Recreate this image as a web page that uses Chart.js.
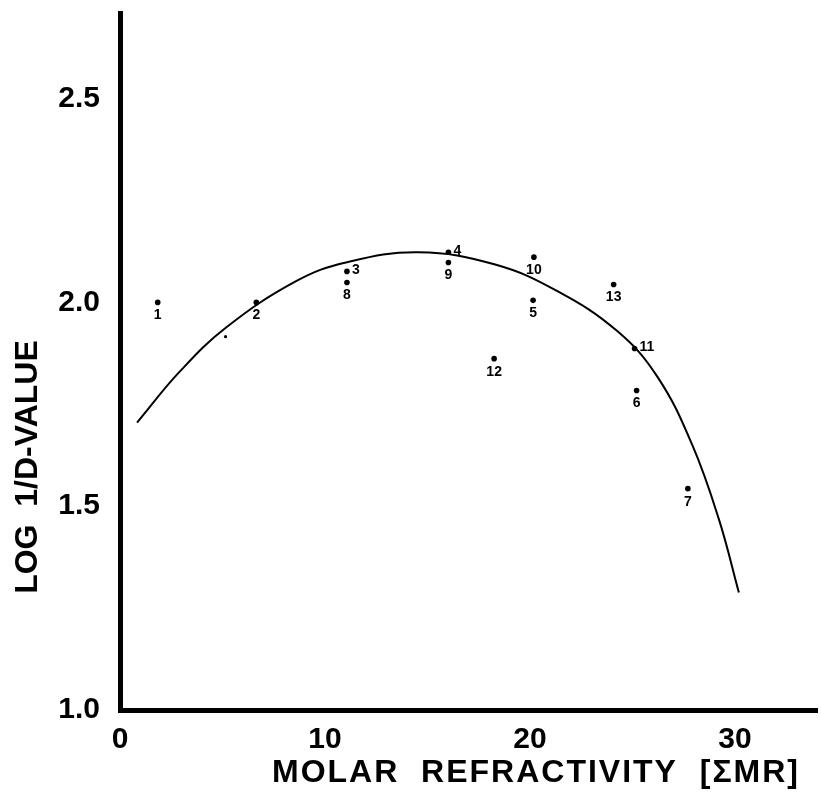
<!DOCTYPE html>
<html>
<head>
<meta charset="utf-8">
<script src="https://cdn.jsdelivr.net/npm/chart.js@4.4.0/dist/chart.umd.min.js"></script>
<style>
  html, body { margin: 0; padding: 0; background: #fff; }
  #wrap { width: 821px; height: 793px; position: relative; }
</style>
</head>
<body>
<div id="wrap"><canvas id="mrChart"></canvas></div>
<script>
// numbered compounds: molar refractivity vs log 1/D
const compoundLabels = ['1', '2', '3', '4', '5', '6', '7', '8', '9', '10', '11', '12', '13'];
const molarRefractivity = [1.84, 6.65, 11.07, 16.02, 20.15, 25.2, 27.7, 11.07, 16.02, 20.19, 25.1, 18.25, 24.08];
const logInvD = [2.0, 2.0, 2.076, 2.123, 2.005, 1.784, 1.543, 2.049, 2.098, 2.111, 1.887, 1.862, 2.044];

// the small unnumbered dot
const extraX = [5.15];
const extraY = [1.916];

// fitted curve
const curveX = [0.83, 2.91, 5.19, 8.59, 11.02, 14.56, 18.3, 21.36, 24.27, 26.21, 27.91, 29.22, 30.19];
const curveY = [1.705, 1.83, 1.939, 2.052, 2.098, 2.123, 2.093, 2.027, 1.929, 1.818, 1.651, 1.467, 1.288];

const xTicks = [0, 10, 20, 30];
const yTicks = [1.0, 1.5, 2.0, 2.5];

const FONT = '"Liberation Sans", Arial, sans-serif';

// labels that sit to the right of their dot instead of below
const sideLabels = ['3', '4', '11'];

const pointLabels = {
  id: 'pointLabels',
  afterDatasetsDraw(chart) {
    const ctx = chart.ctx;
    const meta = chart.getDatasetMeta(1);
    ctx.save();
    ctx.fillStyle = '#000';
    ctx.font = 'bold 14px ' + FONT;
    ctx.textBaseline = 'middle';
    meta.data.forEach((pt, i) => {
      const txt = compoundLabels[i];
      if (sideLabels.includes(txt)) {
        ctx.textAlign = 'left';
        ctx.fillText(txt, pt.x + 5, pt.y - 1);
      } else {
        ctx.textAlign = 'center';
        ctx.fillText(txt, pt.x, pt.y + 13);
      }
    });
    ctx.restore();
  }
};

const axisTitles = {
  id: 'axisTitles',
  afterDraw(chart) {
    const ctx = chart.ctx;
    ctx.save();
    ctx.fillStyle = '#000';
    ctx.font = 'bold 32px ' + FONT;
    ctx.textAlign = 'center';
    ctx.textBaseline = 'middle';
    ctx.letterSpacing = '2px';
    ctx.fillText('MOLAR  REFRACTIVITY  [ΣMR]', 536, 773);
    ctx.letterSpacing = '0px';
    ctx.translate(28, 467);
    ctx.rotate(-Math.PI / 2);
    ctx.fillText('LOG  1/D-VALUE', 0, 0);
    ctx.restore();
  }
};

const ctx = document.getElementById('mrChart').getContext('2d');
const mrChart = new Chart(ctx, {
  type: 'scatter',
  data: {
    datasets: [{
      label: 'fit',
      data: curveX.map((x, i) => ({ x, y: curveY[i] })),
      showLine: true,
      borderColor: '#000',
      borderWidth: 2,
      pointRadius: 0,
      tension: 0.4
    }, {
      label: 'compounds',
      data: molarRefractivity.map((x, i) => ({ x, y: logInvD[i] })),
      pointRadius: 2.8,
      pointBackgroundColor: '#000',
      pointBorderWidth: 0
    }, {
      label: 'extra',
      data: extraX.map((x, i) => ({ x, y: extraY[i] })),
      pointRadius: 1.6,
      pointBackgroundColor: '#000',
      pointBorderWidth: 0
    }]
  },
  options: {
    responsive: true,
    maintainAspectRatio: false,
    animation: false,
    layout: { padding: { top: 13, right: -4, left: 0, bottom: 0 } },
    plugins: {
      legend: { display: false },
      tooltip: { enabled: false }
    },
    scales: {
      x: {
        type: 'linear',
        min: 0,
        max: 34,
        afterBuildTicks: s => { s.ticks = xTicks.map(v => ({ value: v })); },
        afterFit: s => { s.height = 83; s.paddingLeft = 0; s.paddingRight = 0; },
        grid: { display: false },
        border: { display: true, color: '#000', width: 5 },
        ticks: {
          color: '#000',
          padding: 4,
          maxRotation: 0,
          font: { family: FONT, size: 30, weight: 'bold' },
          callback: v => String(v)
        }
      },
      y: {
        type: 'linear',
        min: 1.0,
        max: 2.71,
        afterBuildTicks: s => { s.ticks = yTicks.map(v => ({ value: v })); },
        afterFit: s => { s.width = 120; s.paddingTop = 0; s.paddingBottom = 0; },
        grid: { display: false },
        border: { display: true, color: '#000', width: 5 },
        ticks: {
          color: '#000',
          padding: 12,
          font: { family: FONT, size: 30, weight: 'bold' },
          callback: v => v.toFixed(1)
        }
      }
    }
  },
  plugins: [pointLabels, axisTitles]
});
</script>
</body>
</html>
